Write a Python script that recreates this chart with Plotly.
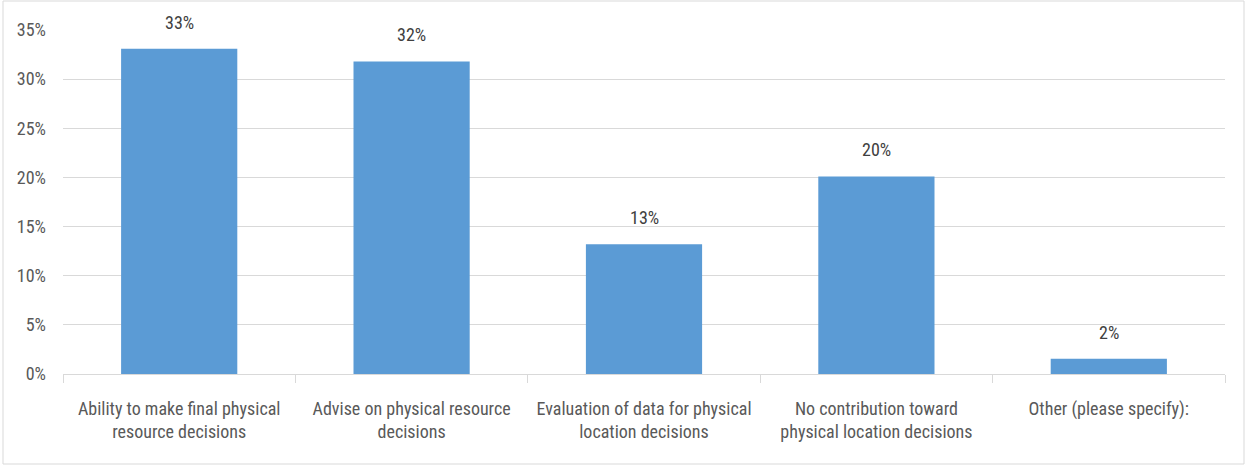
import plotly.graph_objects as go

categories = [
    "Ability to make final physical<br>resource decisions",
    "Advise on physical resource<br>decisions",
    "Evaluation of data for physical<br>location decisions",
    "No contribution toward<br>physical location decisions",
    "Other (please specify):",
]
values = [0.331, 0.318, 0.132, 0.201, 0.0155]
labels = ["33%", "32%", "13%", "20%", "2%"]
tick_vals = [0, 0.05, 0.10, 0.15, 0.20, 0.25, 0.30, 0.35]

FONT = "Liberation Sans Narrow, Arial Narrow, Roboto Condensed, sans-serif"
GREY = "#595959"

fig = go.Figure()
fig.add_trace(go.Bar(
    x=categories, y=values,
    marker=dict(color="#5b9bd5", line=dict(width=0)),
    width=0.5,
    hoverinfo="skip",
))

for c, v, t in zip(categories, values, labels):
    fig.add_annotation(x=c, y=v, text=t,
                       showarrow=False, yanchor="bottom", yshift=14,
                       font=dict(family=FONT, size=18, color="#404040"))

W, H = 1247, 466
L, R, T, B = 63, 22, 30, 92
pw, ph = W - L - R, H - T - B
fig.add_shape(type="rect", xref="paper", yref="paper",
              x0=(3 - L) / pw, x1=(W - 3 - L) / pw,
              y0=-(H - 2 - T - ph) / ph, y1=(T - 1) / ph + 1,
              line=dict(color="#d9d9d9", width=1), layer="below")

fig.update_layout(
    width=W, height=H,
    margin=dict(l=L, r=R, t=T, b=B, autoexpand=False),
    plot_bgcolor="white", paper_bgcolor="white",
    showlegend=False,
    bargap=0.5,
    font=dict(family=FONT, size=18, color=GREY),
    xaxis=dict(
        showline=True, linecolor="#d9d9d9", linewidth=1,
        ticks="outside", tickson="boundaries", ticklen=8, tickcolor="#d9d9d9",
        tickfont=dict(family=FONT, size=18, color=GREY),
        showgrid=False, ticklabelstandoff=18,
    ),
    yaxis=dict(
        range=[0, 0.35], tickvals=tick_vals, tickformat=".0%",
        showgrid=True, gridcolor="#d9d9d9", gridwidth=1,
        zeroline=False, showline=False, ticks="",
        tickfont=dict(family=FONT, size=18, color=GREY),
        ticklabelstandoff=16,
    ),
)

fig.write_html("out.html", config={"displayModeBar": False},
               post_script="document.body.style.margin='0';document.body.style.overflow='hidden';")
